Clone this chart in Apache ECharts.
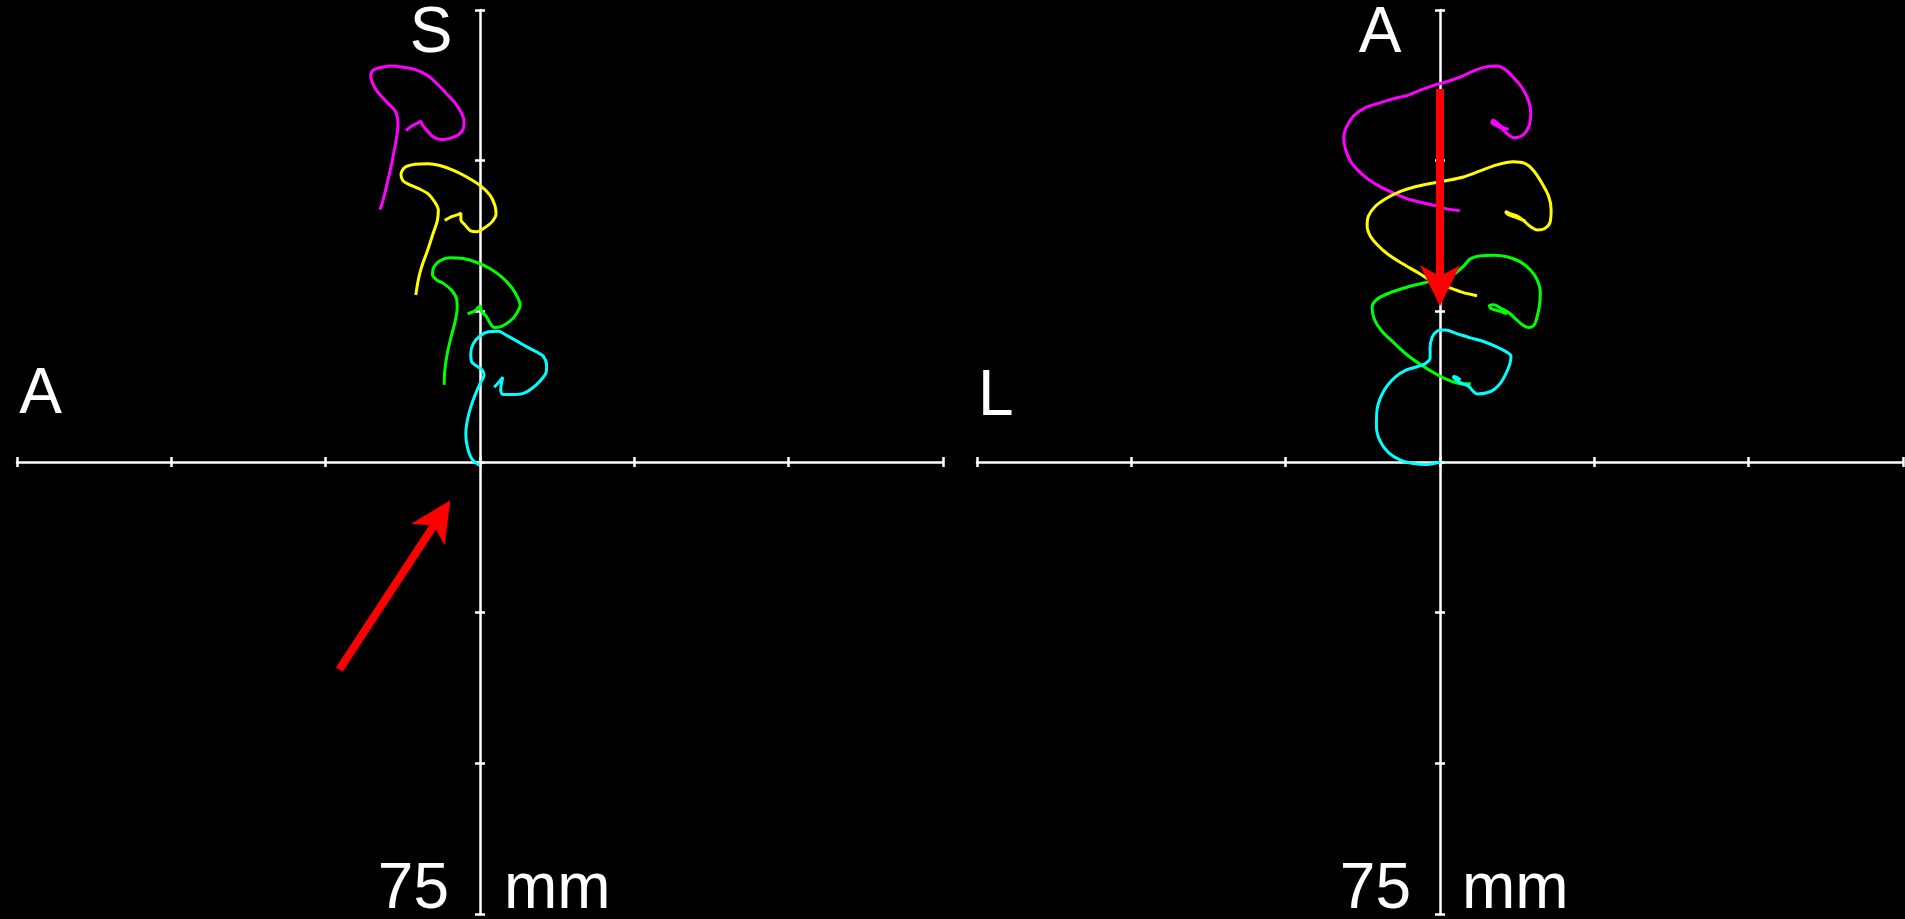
<!DOCTYPE html>
<html>
<head>
<meta charset="utf-8">
<title>Trajectory views</title>
<script src="https://cdn.jsdelivr.net/npm/echarts@6/dist/echarts.min.js"></script>
<style>
  html, body { margin: 0; padding: 0; background: #000; }
  #chart { width: 1905px; height: 919px; }
</style>
</head>
<body>
<div id="chart"></div>
<script>
// axes in mm, a tick every 25 mm
const axisMin = -75;
const axisMax = 75;
const axisStep = 25;
const scaleLabel = "75";
const unitLabel = "mm";
const leftViewLabels = ["A", "S"];   // horizontal end, vertical end
const rightViewLabels = ["L", "A"];

// left view (A / S), [x, y] in mm
const sagMagenta = [[-16.2,41.9],[-15.8,43.1],[-15.3,45.1],[-14.8,47.3],[-14.3,49.5],[-13.9,51.7],[-13.5,53.9],[-13.3,55.9],[-13.4,57.3],[-13.9,58.5],[-14.9,59.5],[-15.9,60.6],[-16.8,61.7],[-17.5,63.1],[-17.7,64.2],[-17.2,65.1],[-15.9,65.5],[-14.3,65.7],[-12.4,65.5],[-10.5,65.1],[-8.6,64.2],[-7.0,62.8],[-5.5,61.2],[-4.05,59.6],[-3.1,58.1],[-2.6,56.7],[-2.7,55.3],[-3.5,54.3],[-4.9,53.7],[-6.2,53.5],[-7.5,53.9],[-8.5,54.9],[-9.3,55.9],[-9.6,56.5],[-10.2,56.2],[-11.1,55.7],[-12.0,55.0]];
const sagYellow = [[-10.4,27.7],[-10.0,30.2],[-9.45,32.4],[-8.5,35.1],[-7.6,37.9],[-6.9,40.1],[-6.75,41.8],[-7.3,43.1],[-8.4,44.5],[-10.0,45.4],[-11.6,46.1],[-12.5,46.7],[-12.8,47.7],[-12.15,48.9],[-10.5,49.4],[-8.4,49.5],[-6.5,49.2],[-4.3,48.4],[-2.15,47.3],[0,45.9],[1.6,44.3],[2.4,42.6],[2.6,41.2],[1.9,39.8],[0.5,38.7],[-0.5,38.2],[-1.6,38.4],[-2.4,39.3],[-3.1,40.2],[-3.1,41.3],[-3.5,41.1],[-4.6,40.7],[-5.7,40.1]];
const sagGreen = [[-5.8,12.8],[-5.7,15.2],[-5.3,18.0],[-4.7,20.7],[-4.05,23.2],[-3.7,25.5],[-3.8,27.1],[-4.6,28.5],[-5.9,29.6],[-7.0,30.2],[-7.7,31.1],[-7.45,32.4],[-6.5,33.4],[-4.9,33.9],[-2.7,33.75],[-0.5,33.1],[1.6,32.1],[3.5,30.7],[5.1,29.0],[6.2,27.1],[6.5,26.0],[5.9,24.6],[4.9,23.4],[3.5,22.5],[2.3,22.3],[1.6,23.1],[1.0,24.2],[0.3,24.9],[0,25.9],[-0.8,25.1],[-2.0,24.6]];
const sagCyan = [[-0.1,-0.55],[-1.35,0.56],[-2.05,2.5],[-2.3,4.7],[-2.05,6.9],[-1.5,9.1],[-0.8,11.1],[0,13.0],[0.65,14.4],[0.4,15.2],[-0.5,15.9],[-1.35,16.6],[-1.5,18.0],[-1.1,19.6],[0,20.9],[1.35,21.6],[3.0,21.7],[4.3,21.0],[5.9,20.1],[7.6,19.1],[9.2,18.25],[10.3,17.5],[10.8,16.0],[10.7,14.8],[9.7,13.4],[8.4,12.2],[6.9,11.35],[5.1,11.2],[3.7,11.2],[3.35,12.0],[3.7,14.1],[3.1,13.3],[2.3,12.4]];
// red arrow, [tailX, tailY, tipX, tipY]
const sagArrow = [[-22.8, -34.45, -4.8, -6.36]];

// right view (L / A)
const axMagenta = [[3.2,41.7],[1.1,42.0],[-1.0,42.6],[-3.2,43.1],[-5.35,43.7],[-7.5,44.6],[-9.7,45.7],[-11.6,46.9],[-13.2,48.3],[-14.5,49.9],[-15.3,51.9],[-15.6,53.8],[-15.2,55.5],[-14.0,57.4],[-12.1,58.8],[-9.7,59.6],[-7.5,60.3],[-5.35,60.8],[-3.2,61.7],[-1.0,62.5],[1.1,63.1],[3.3,63.9],[5.45,64.9],[7.6,65.6],[9.2,65.7],[10.6,65.1],[11.9,63.8],[13.3,62.1],[14.35,59.9],[14.7,57.9],[14.5,56.0],[13.8,54.6],[13.0,54.0],[11.9,53.8],[10.85,54.5],[10.05,55.3],[9.2,55.8],[8.4,56.3],[8.6,56.7],[9.1,56.4],[10.2,55.5],[11.1,55.2]];
const axYellow = [[6.0,27.6],[3.8,28.1],[1.1,29.1],[-1.6,30.2],[-3.7,31.5],[-6.4,33.1],[-8.6,34.6],[-10.2,36.1],[-11.3,37.5],[-11.8,39.1],[-11.6,40.8],[-10.5,42.4],[-8.6,43.8],[-6.4,44.9],[-4.3,45.6],[-1.6,46.2],[1.1,46.7],[3.8,47.3],[6.5,48.3],[9.2,49.3],[11.9,49.8],[13.8,49.5],[15.2,48.3],[16.5,46.3],[17.6,44.1],[18.0,41.9],[17.8,39.7],[16.9,38.7],[15.8,38.5],[14.6,39.1],[13.5,40.1],[12.5,40.8],[11.4,41.2],[10.6,41.6],[10.95,41.1],[12.5,40.5],[13.8,40.0]];
const axGreen = [[5.0,13.0],[3.3,13.0],[1.1,13.7],[-1.0,14.8],[-3.2,16.2],[-5.35,17.8],[-7.5,19.8],[-9.4,21.7],[-10.6,23.6],[-11.0,25.6],[-10.2,27.0],[-8.05,28.1],[-5.35,29.0],[-2.65,29.7],[0.05,30.3],[2.2,31.1],[3.8,32.5],[4.9,33.7],[6.5,34.2],[8.7,34.3],[10.85,34.05],[13.0,33.2],[14.6,31.9],[15.7,30.3],[16.25,28.1],[16.1,25.9],[15.6,23.6],[15.2,22.65],[14.35,22.3],[13.3,22.8],[12.2,23.8],[11.1,24.8],[10.05,25.4],[8.7,26.1],[8.0,25.9],[8.4,25.4],[9.8,25.0],[10.85,24.6]];
const axCyan = [[0.05,0],[-2.1,-0.4],[-4.3,-0.25],[-6.4,0.3],[-8.3,1.5],[-9.7,3.45],[-10.3,5.9],[-10.2,8.7],[-9.55,10.9],[-8.6,12.6],[-7.25,14.1],[-5.6,15.2],[-3.7,15.8],[-2.4,16.3],[-1.6,17.3],[-1.6,18.95],[-1.3,20.6],[-0.5,21.7],[0.85,21.9],[2.75,21.3],[4.9,20.6],[7.05,20.0],[9.2,19.1],[10.85,18.2],[11.5,17.6],[11.3,16.2],[10.6,14.5],[9.8,13.1],[8.7,12.0],[7.6,11.5],[6.0,11.3],[5.35,11.75],[4.6,12.6],[3.6,13.0],[2.65,13.6],[2.1,14.2],[2.65,14.1],[3.3,13.6]];
const axArrow = [[0, 61.9, 0, 25.85]];

const colors = ["#ff00ff", "#ffff00", "#00ff00", "#00ffff"];
const FONT = '"Liberation Sans", Arial, sans-serif';

// two axes per side so the ticks cross the line on both sides
const makeAxis = (gridIndex, position, visibleLine) => ({
  type: "value",
  gridIndex,
  position,
  min: axisMin,
  max: axisMax,
  interval: axisStep,
  axisLine: {
    onZero: true,
    lineStyle: { color: "#fff", width: 2.5, opacity: visibleLine ? 1 : 0 },
  },
  axisTick: { show: true, length: 5, lineStyle: { color: "#fff", width: 2.5 } },
  axisLabel: { show: false },
  splitLine: { show: false },
});

const renderArrow = (params, api) => {
  const a = api.coord([api.value(0), api.value(1)]);
  const b = api.coord([api.value(2), api.value(3)]);
  const dx = b[0] - a[0];
  const dy = b[1] - a[1];
  const len = Math.sqrt(dx * dx + dy * dy);
  const ux = dx / len, uy = dy / len;
  const px = -uy, py = ux;
  const headLen = 41, headHalf = 20, notch = 30;
  const base = [b[0] - ux * headLen, b[1] - uy * headLen];
  const neck = [b[0] - ux * notch, b[1] - uy * notch];
  return {
    type: "group",
    children: [
      {
        type: "line",
        shape: { x1: a[0], y1: a[1], x2: neck[0] + ux * 3, y2: neck[1] + uy * 3 },
        style: { stroke: "#ff0000", lineWidth: 8, lineCap: "butt" },
      },
      {
        type: "polygon",
        shape: {
          points: [
            b,
            [base[0] + px * headHalf, base[1] + py * headHalf],
            neck,
            [base[0] - px * headHalf, base[1] - py * headHalf],
          ],
        },
        style: { fill: "#ff0000" },
      },
    ],
  };
};

const lineSeries = (data, color, axisIndex) => ({
  type: "line",
  data,
  xAxisIndex: axisIndex,
  yAxisIndex: axisIndex,
  showSymbol: false,
  symbol: "none",
  smooth: 0.3,
  lineStyle: { color, width: 3 },
  z: 3,
});

const arrowSeries = (data, axisIndex) => ({
  type: "custom",
  data,
  xAxisIndex: axisIndex,
  yAxisIndex: axisIndex,
  encode: { x: [0, 2], y: [1, 3] },
  renderItem: renderArrow,
  z: 5,
});

const label = (text, x, y, align) => ({
  type: "text",
  x,
  y,
  z: 10,
  style: {
    text,
    fill: "#fff",
    fontSize: 64,
    fontFamily: FONT,
    align,
    verticalAlign: "middle",
  },
});

const chart = echarts.init(document.getElementById("chart"));

chart.setOption({
  backgroundColor: "#000",
  animation: false,
  grid: [
    { left: 17, top: 10, width: 926, height: 904, containLabel: false, outerBoundsMode: "none" },
    { left: 977, top: 10, width: 926, height: 904, containLabel: false, outerBoundsMode: "none" },
  ],
  xAxis: [
    makeAxis(0, "bottom", true),
    makeAxis(0, "top", false),
    makeAxis(1, "bottom", true),
    makeAxis(1, "top", false),
  ],
  yAxis: [
    makeAxis(0, "left", true),
    makeAxis(0, "right", false),
    makeAxis(1, "left", true),
    makeAxis(1, "right", false),
  ],
  series: [
    lineSeries(sagMagenta, colors[0], 0),
    lineSeries(sagYellow, colors[1], 0),
    lineSeries(sagGreen, colors[2], 0),
    lineSeries(sagCyan, colors[3], 0),
    arrowSeries(sagArrow, 0),
    lineSeries(axMagenta, colors[0], 2),
    lineSeries(axYellow, colors[1], 2),
    lineSeries(axGreen, colors[2], 2),
    lineSeries(axCyan, colors[3], 2),
    arrowSeries(axArrow, 2),
  ],
  graphic: [
    label(leftViewLabels[0], 40.7, 395, "center"),
    label(leftViewLabels[1], 431, 34, "center"),
    label(scaleLabel, 449, 890, "right"),
    label(unitLabel, 504, 890, "left"),
    label(rightViewLabels[0], 978, 397, "left"),
    label(rightViewLabels[1], 1380, 34, "center"),
    label(scaleLabel, 1411, 890, "right"),
    label(unitLabel, 1462, 890, "left"),
  ],
});

window.addEventListener("resize", () => chart.resize());
</script>
</body>
</html>
